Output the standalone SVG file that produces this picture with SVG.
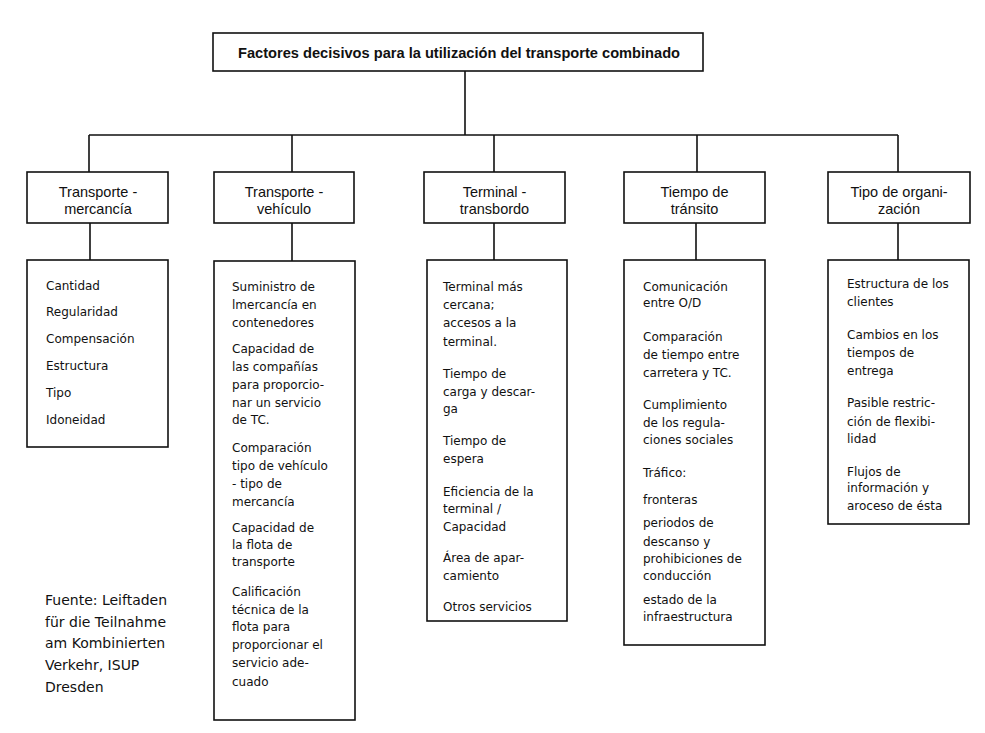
<svg xmlns="http://www.w3.org/2000/svg" width="985" height="733" viewBox="0 0 985 733">
<style>
.box{fill:#fff;stroke:#111;stroke-width:1.6}
.ln{fill:none;stroke:#111;stroke-width:1.6}
.ttl{font-family:"Liberation Sans",Arial,sans-serif;font-weight:bold;font-size:15.5px;fill:#111}
.hd{font-family:"Liberation Sans",Arial,sans-serif;font-size:14.5px;fill:#111;text-anchor:middle}
.ct{font-family:"DejaVu Sans",sans-serif;font-size:12px;fill:#111}
.src{font-family:"DejaVu Sans",sans-serif;font-size:14px;fill:#111}
</style>
<rect width="985" height="733" fill="#fff"/>
<g id="connectors">
<path class="ln" d="M465 71V135M89 135H898M89 135V172M292 135V172M494 135V172M697 135V172M898 135V172"/>
<path class="ln" d="M90 223V260M292 223V261M494 223V260M696 223V260M898 223V260"/>
</g>
<g id="title">
<rect class="box" x="213" y="33" width="490" height="38"/>
<text class="ttl" x="238" y="58" textLength="442" lengthAdjust="spacingAndGlyphs">Factores decisivos para la utilización del transporte combinado</text>
</g>
<g id="h1"><rect class="box" x="27" y="172" width="141" height="51"/><text class="hd" x="98" y="197">Transporte -</text><text class="hd" x="98" y="214">mercancía</text></g>
<g id="h2"><rect class="box" x="214" y="172" width="140" height="51"/><text class="hd" x="284" y="197">Transporte -</text><text class="hd" x="284" y="214">vehículo</text></g>
<g id="h3"><rect class="box" x="424" y="172" width="141" height="51"/><text class="hd" x="494.5" y="197">Terminal -</text><text class="hd" x="494.5" y="214">transbordo</text></g>
<g id="h4"><rect class="box" x="624" y="172" width="141" height="51"/><text class="hd" x="694.5" y="197">Tiempo de</text><text class="hd" x="694.5" y="214">tránsito</text></g>
<g id="h5"><rect class="box" x="828" y="172" width="142" height="51"/><text class="hd" x="899" y="197">Tipo de organi-</text><text class="hd" x="899" y="214">zación</text></g>
<g id="c1"><rect class="box" x="27" y="260" width="141" height="187"/>
<text class="ct" x="46" y="290">Cantidad</text>
<text class="ct" x="46" y="316">Regularidad</text>
<text class="ct" x="46" y="343">Compensación</text>
<text class="ct" x="46" y="370">Estructura</text>
<text class="ct" x="46" y="397">Tipo</text>
<text class="ct" x="46" y="424">Idoneidad</text>
</g>
<g id="c2"><rect class="box" x="214" y="261" width="141" height="459"/>
<text class="ct" x="232" y="291">Suministro de</text>
<text class="ct" x="232" y="309">lmercancía en</text>
<text class="ct" x="232" y="327">contenedores</text>
<text class="ct" x="232" y="353">Capacidad de</text>
<text class="ct" x="232" y="371">las compañías</text>
<text class="ct" x="232" y="389">para proporcio-</text>
<text class="ct" x="232" y="407">nar un servicio</text>
<text class="ct" x="232" y="424">de TC.</text>
<text class="ct" x="232" y="452">Comparación</text>
<text class="ct" x="232" y="470">tipo de vehículo</text>
<text class="ct" x="232" y="488">- tipo de</text>
<text class="ct" x="232" y="506">mercancía</text>
<text class="ct" x="232" y="532">Capacidad de</text>
<text class="ct" x="232" y="549">la flota de</text>
<text class="ct" x="232" y="566">transporte</text>
<text class="ct" x="232" y="596">Calificación</text>
<text class="ct" x="232" y="614">técnica de la</text>
<text class="ct" x="232" y="631">flota para</text>
<text class="ct" x="232" y="649">proporcionar el</text>
<text class="ct" x="232" y="667">servicio ade-</text>
<text class="ct" x="232" y="686">cuado</text>
</g>
<g id="c3"><rect class="box" x="427" y="260" width="140" height="361"/>
<text class="ct" x="443" y="291">Terminal más</text>
<text class="ct" x="443" y="309">cercana;</text>
<text class="ct" x="443" y="327">accesos a la</text>
<text class="ct" x="443" y="346">terminal.</text>
<text class="ct" x="443" y="378">Tiempo de</text>
<text class="ct" x="443" y="396">carga y descar-</text>
<text class="ct" x="443" y="413">ga</text>
<text class="ct" x="443" y="445">Tiempo de</text>
<text class="ct" x="443" y="463">espera</text>
<text class="ct" x="443" y="496">Eficiencia de la</text>
<text class="ct" x="443" y="513">terminal /</text>
<text class="ct" x="443" y="531">Capacidad</text>
<text class="ct" x="443" y="562">Área de apar-</text>
<text class="ct" x="443" y="580">camiento</text>
<text class="ct" x="443" y="611">Otros servicios</text>
</g>
<g id="c4"><rect class="box" x="624" y="260" width="141" height="385"/>
<text class="ct" x="643" y="291">Comunicación</text>
<text class="ct" x="643" y="307">entre O/D</text>
<text class="ct" x="643" y="341">Comparación</text>
<text class="ct" x="643" y="359">de tiempo entre</text>
<text class="ct" x="643" y="377">carretera y TC.</text>
<text class="ct" x="643" y="409">Cumplimiento</text>
<text class="ct" x="643" y="427">de los regula-</text>
<text class="ct" x="643" y="444">ciones sociales</text>
<text class="ct" x="643" y="477">Tráfico:</text>
<text class="ct" x="643" y="504">fronteras</text>
<text class="ct" x="643" y="527">periodos de</text>
<text class="ct" x="643" y="546">descanso y</text>
<text class="ct" x="643" y="563">prohibiciones de</text>
<text class="ct" x="643" y="580">conducción</text>
<text class="ct" x="643" y="604">estado de la</text>
<text class="ct" x="643" y="621">infraestructura</text>
</g>
<g id="c5"><rect class="box" x="828" y="260" width="141" height="264"/>
<text class="ct" x="847" y="288">Estructura de los</text>
<text class="ct" x="847" y="306">clientes</text>
<text class="ct" x="847" y="339">Cambios en los</text>
<text class="ct" x="847" y="357">tiempos de</text>
<text class="ct" x="847" y="375">entrega</text>
<text class="ct" x="847" y="407">Pasible restric-</text>
<text class="ct" x="847" y="426">ción de  flexibi-</text>
<text class="ct" x="847" y="443">lidad</text>
<text class="ct" x="847" y="476">Flujos de</text>
<text class="ct" x="847" y="492">información y</text>
<text class="ct" x="847" y="510">aroceso de ésta</text>
</g>
<g id="source">
<text class="src" x="45" y="605">Fuente: Leiftaden</text>
<text class="src" x="45" y="627">für die Teilnahme</text>
<text class="src" x="45" y="648">am Kombinierten</text>
<text class="src" x="45" y="670">Verkehr, ISUP</text>
<text class="src" x="45" y="692">Dresden</text>
</g>
</svg>
